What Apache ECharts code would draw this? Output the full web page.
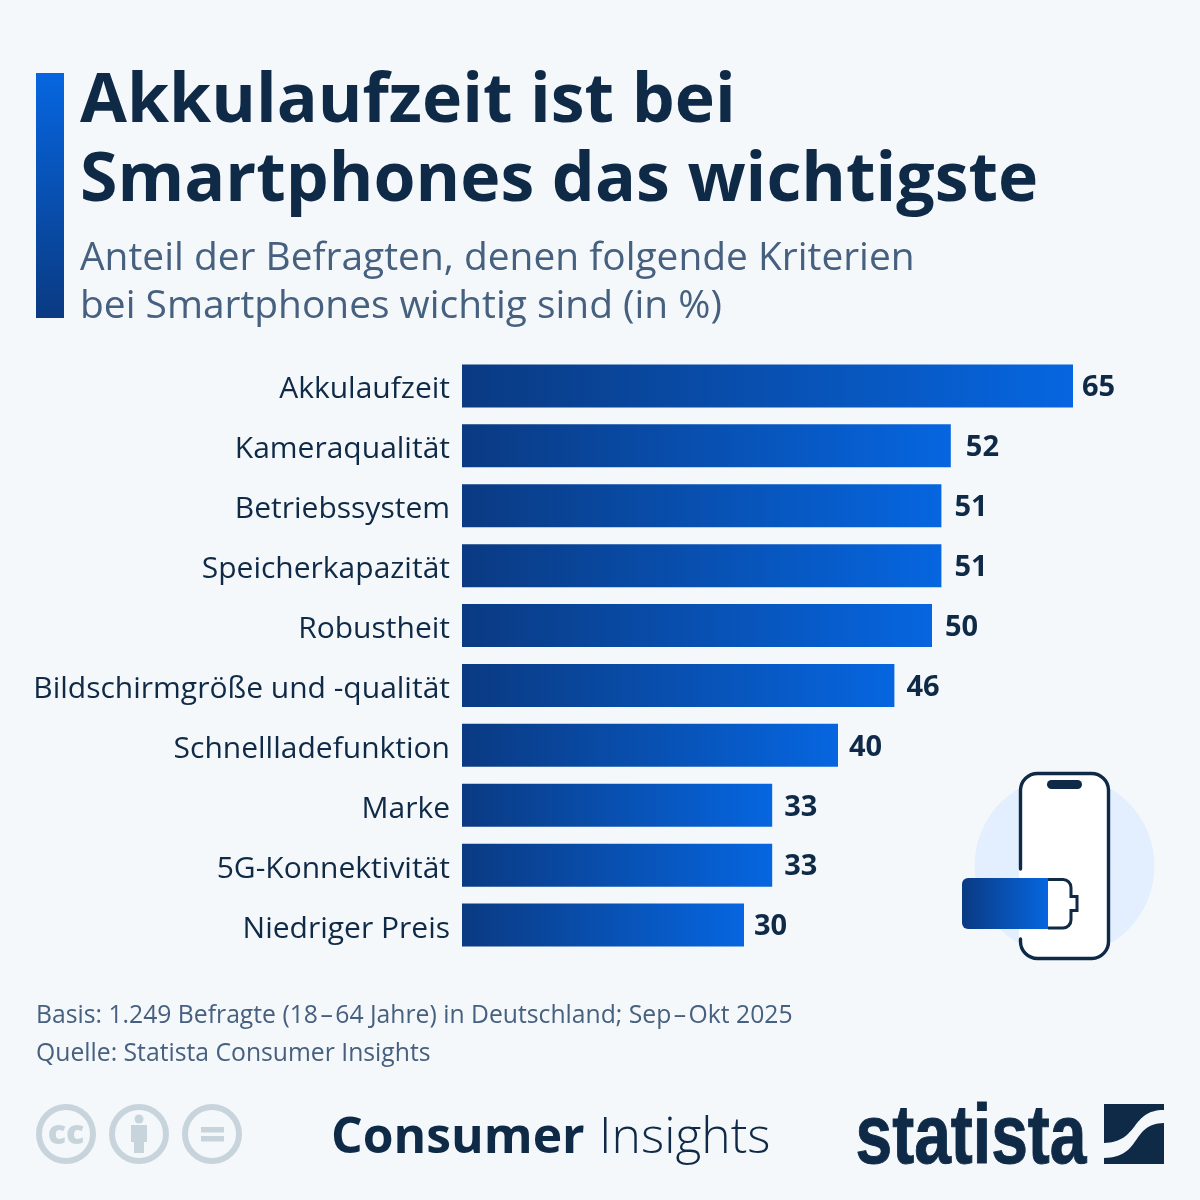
<!DOCTYPE html>
<html><head><meta charset="utf-8">
<style>html,body{margin:0;padding:0;background:#f5f8fb}#c{width:1200px;height:1200px}</style>
<script src="https://cdn.jsdelivr.net/npm/echarts@6/dist/echarts.min.js"></script>
</head><body><div id="c"></div>
<script>
const categories = ["Akkulaufzeit","Kameraqualität","Betriebssystem","Speicherkapazität","Robustheit","Bildschirmgröße und -qualität","Schnellladefunktion","Marke","5G-Konnektivität","Niedriger Preis"];
const values = [65,52,51,51,50,46,40,33,33,30];
const labelGaps = [9,15,13,13,13,12,11,12,12,10];
const titleLines = ["Akkulaufzeit ist bei","Smartphones das wichtigste"];
const subtitleLines = ["Anteil der Befragten, denen folgende Kriterien","bei Smartphones wichtig sind (in %)"];
const footerLines = ["Basis: 1.249 Befragte (18\u200a–\u200a64 Jahre) in Deutschland; Sep\u200a–\u200aOkt 2025","Quelle: Statista Consumer Insights"];

const NAVY='#0f2a47', SUB='#46607f', GREY='#c8d4dc';
const FONT='"Open Sans"';
const hGrad=()=>new echarts.graphic.LinearGradient(0,0,1,0,[{offset:0,color:'#0a3a82'},{offset:1,color:'#0666e0'}]);
const txt=(text,x,y,font,fill,align)=>({type:'text',style:{text,x,y,font,fill,textAlign:align||'left',textVerticalAlign:'middle'}});
let shapeId=0;
const pth=(d,style)=>{const name='deco'+(shapeId++);echarts.graphic.registerShape(name,echarts.graphic.extendPath(d,{}));return {type:name,style};};
const chart=echarts.init(document.getElementById('c'),null,{renderer:'canvas'});
const graphic=[
 {type:'rect',shape:{x:36,y:73,width:28,height:245},style:{fill:new echarts.graphic.LinearGradient(0,0,0,1,[{offset:0,color:'#0666e0'},{offset:1,color:'#0a3a82'}])}},
 txt(titleLines[0],80,103,`700 68px ${FONT}`,NAVY),
 txt(titleLines[1],80,182,`700 68px ${FONT}`,NAVY),
 txt(subtitleLines[0],80,259,`400 38.9px ${FONT}`,SUB),
 txt(subtitleLines[1],80,307,`400 38.9px ${FONT}`,SUB),
 txt(footerLines[0],36,1016,`400 24.72px ${FONT}`,SUB),
 txt(footerLines[1],36,1054,`400 24.72px ${FONT}`,SUB),
 // phone illustration
 {type:'circle',shape:{cx:1064.5,cy:866,r:90},style:{fill:'#e3effe'}},
 {type:'rect',shape:{x:1019,y:772,width:91,height:187,r:17},style:{fill:'#fff'}},
 pth('M1020.5 869V790A17 17 0 0 1 1037.5 773.5H1091.5A17 17 0 0 1 1108.5 790V941A17 17 0 0 1 1091.5 958.5H1037.5A17 17 0 0 1 1020.5 941V939',{fill:'none',stroke:NAVY,lineWidth:3.4,lineCap:'round'}),
 {type:'rect',shape:{x:1047,y:780,width:35,height:9,r:4.5},style:{fill:NAVY}},
 pth('M1048 879.5H1063A8 8 0 0 1 1071 887.5V896.5H1077V910.5H1071V920A8 8 0 0 1 1063 928H1048',{fill:'#fff',stroke:NAVY,lineWidth:3}),
 pth('M968 878H1048V929H968A6 6 0 0 1 962 923V884A6 6 0 0 1 968 878Z',{fill:hGrad()}),
 // licence icons
 {type:'circle',shape:{cx:66,cy:1134,r:27},style:{fill:'none',stroke:GREY,lineWidth:6}},
 txt('cc',66,1134,`800 34px ${FONT}`,GREY,'center'),
 {type:'circle',shape:{cx:139,cy:1134,r:27},style:{fill:'none',stroke:GREY,lineWidth:6}},
 {type:'circle',shape:{cx:139,cy:1119,r:4.5},style:{fill:GREY}},
 pth('M131 1125H147V1142H144V1153H134V1142H131Z',{fill:GREY}),
 {type:'circle',shape:{cx:212,cy:1134,r:27},style:{fill:'none',stroke:GREY,lineWidth:6}},
 {type:'rect',shape:{x:201,y:1127,width:23,height:5.5},style:{fill:GREY}},
 {type:'rect',shape:{x:201,y:1136,width:23,height:5.5},style:{fill:GREY}},
 // footer branding
 txt('Consumer',331,1139,`700 49.8px ${FONT}`,NAVY),
 txt('Insights',599,1139,`300 49.8px ${FONT}`,NAVY),
 {type:'text',x:855.5,y:1140,scaleX:0.795,style:{text:'statista',x:0,y:0,font:'700 83px "Liberation Sans"',fill:NAVY,stroke:NAVY,lineWidth:1,textAlign:'left',textVerticalAlign:'middle'}},
 pth('M1104 1104H1164V1110C1130 1110 1140 1142 1104 1143Z',{fill:NAVY}),
 pth('M1164 1123V1164H1104V1158C1143 1157 1130 1124 1164 1123Z',{fill:NAVY})
];
chart.setOption({
 animation:false,
 backgroundColor:'#f5f8fb',
 textStyle:{fontFamily:FONT},
 grid:{left:462,top:356,width:611,height:599},
 xAxis:{type:'value',min:0,max:65,show:false},
 yAxis:{type:'category',inverse:true,data:categories,axisLine:{show:false},axisTick:{show:false},
  axisLabel:{margin:12,formatter:'{a|{value}}',rich:{a:{fontFamily:FONT,fontSize:30,color:NAVY,padding:[8,0,0,0]}}}},
 series:[{type:'bar',barWidth:43,data:values.map((v,i)=>({value:v,label:{distance:labelGaps[i]}})),
  itemStyle:{color:hGrad()},
  label:{show:true,position:'right',offset:[0,2],fontFamily:FONT,fontWeight:700,fontSize:29,color:NAVY}}],
 graphic
});
</script></body></html>
